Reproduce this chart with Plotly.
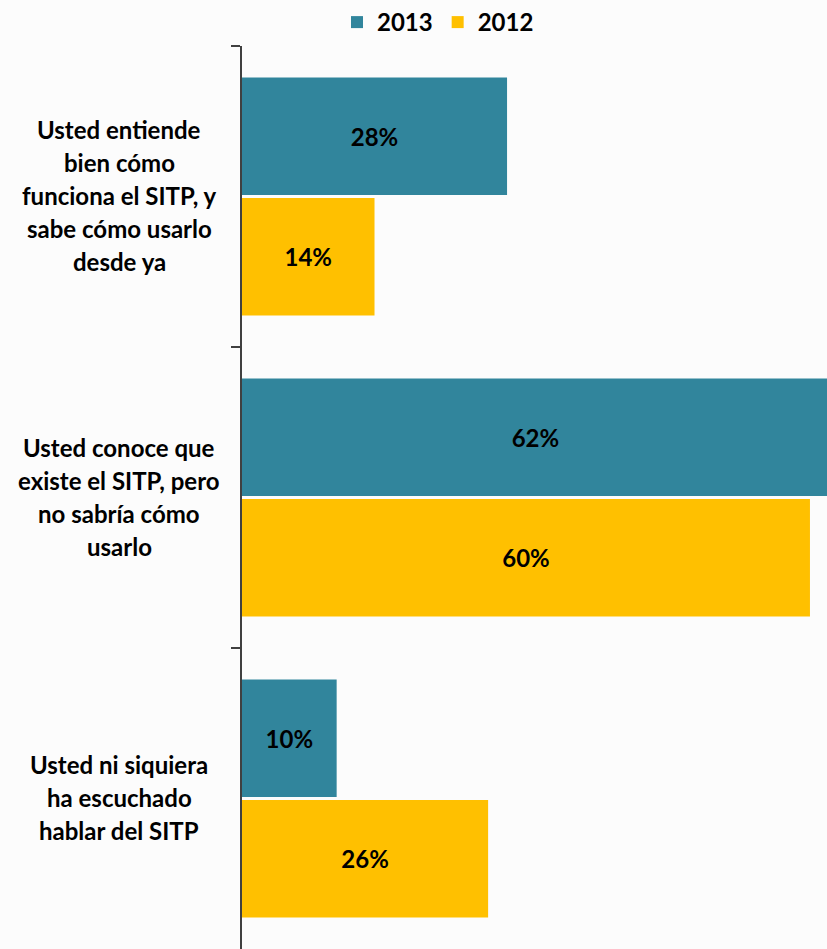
import plotly.graph_objects as go

categories = [
    "Usted entiende bien cómo funciona el SITP, y sabe cómo usarlo desde ya",
    "Usted conoce que existe el SITP, pero no sabría cómo usarlo",
    "Usted ni siquiera ha escuchado hablar del SITP",
]
label_lines = [
    ["Usted entiende", "bien cómo", "funciona el SITP, y", "sabe cómo usarlo", "desde ya"],
    ["Usted conoce que", "existe el SITP, pero", "no sabría cómo", "usarlo"],
    ["Usted ni siquiera", "ha escuchado", "hablar del SITP"],
]
values_2013 = [28, 62, 10]
values_2012 = [14, 60, 26]

FONT = "Lato"
TEAL = "#31859C"
GOLD = "#FFC000"

fig = go.Figure()
for name, vals, col in [("2013", values_2013, TEAL), ("2012", values_2012, GOLD)]:
    fig.add_trace(go.Bar(
        name=f"<b>{name}</b>", y=categories, x=vals, orientation="h",
        marker=dict(color=col, line=dict(width=0)),
        text=[f"<b>{v}%</b>" for v in vals],
        textposition="inside", insidetextanchor="middle", textangle=0,
        textfont=dict(family=FONT, size=24, color="black"),
        hoverinfo="skip",
    ))

annotations = []
spacing = 33
for cat, lines in zip(categories, label_lines):
    n = len(lines)
    for i, line in enumerate(lines):
        annotations.append(dict(
            x=-0.21, xref="paper", y=cat, yref="y",
            xanchor="center", yanchor="middle",
            yshift=((n - 1) / 2 - i) * spacing + 1,
            text=f"<b>{line}</b>", showarrow=False,
            font=dict(family=FONT, size=24, color="black"),
        ))

fig.update_layout(
    width=827, height=949,
    margin=dict(l=242, r=0, t=45, b=0),
    paper_bgcolor="#FCFCFC", plot_bgcolor="#FCFCFC",
    barmode="group", bargap=0.2, bargroupgap=0.025,
    showlegend=True,
    legend=dict(orientation="h", x=0.335, xanchor="center", y=1.026, yanchor="middle",
                font=dict(family=FONT, size=24, color="black"),
                traceorder="normal", bgcolor="rgba(0,0,0,0)"),
    xaxis=dict(range=[0, 61.8], visible=False, fixedrange=True),
    yaxis=dict(autorange="reversed", showticklabels=False, showline=True,
               linecolor="#404040", linewidth=1.5, ticks="outside", ticklen=9,
               tickcolor="#404040", tickwidth=1.5, tickson="boundaries",
               showgrid=False, zeroline=False),
    annotations=annotations,
    font=dict(family=FONT),
)

fig.write_html("out.html", config={"displayModeBar": False},
               post_script="document.body.style.margin='0';document.body.style.background='#FCFCFC';")
